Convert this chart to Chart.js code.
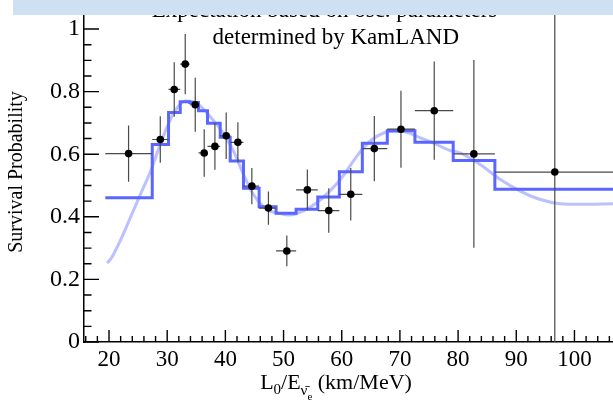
<!DOCTYPE html>
<html>
<head>
<meta charset="utf-8">
<script src="https://cdn.jsdelivr.net/npm/chart.js@4/dist/chart.umd.min.js"></script>
<style>
  html, body { margin: 0; padding: 0; overflow: hidden; background: #fff; width: 613px; height: 408px; }
  #wrap { position: absolute; left: 0; top: 0; width: 630px; height: 408px; }
  #band { position: absolute; left: 13px; top: 0; width: 600px; height: 15px; background: #cfe0f3; }
</style>
</head>
<body>
<div id="wrap"><canvas id="c" width="630" height="408"></canvas></div>
<div id="band"></div>
<script>
// L0/E bins (km/MeV)
const binEdges = [19.36, 27.43, 30.23, 32.24, 33.87, 35.38, 36.93, 39.11, 40.83, 43.11,
                  45.80, 48.72, 52.16, 55.88, 59.59, 63.54, 67.83, 72.58, 79.16, 86.32, 107.0];
// measured survival probability per bin
const pointX   = [23.36, 28.81, 31.21, 33.10, 34.82, 36.36, 38.20, 40.14, 42.15, 44.55,
                  47.40, 50.56, 54.09, 57.77, 61.55, 65.60, 70.18, 75.90, 82.71, 96.62];
const measured = [0.602, 0.647, 0.807, 0.888, 0.758, 0.604, 0.625, 0.659, 0.638, 0.498,
                  0.428, 0.291, 0.486, 0.420, 0.472, 0.618, 0.680, 0.739, 0.601, 0.543];
const errors   = [0.090, 0.074, 0.087, 0.096, 0.086, 0.076, 0.075, 0.074, 0.064, 0.058,
                  0.053, 0.049, 0.065, 0.071, 0.084, 0.104, 0.123, 0.157, 0.300, 0.560];
// expectation per bin (best-fit oscillation parameters)
const expected = [0.461, 0.631, 0.733, 0.768, 0.765, 0.739, 0.699, 0.654, 0.578, 0.491,
                  0.432, 0.411, 0.424, 0.463, 0.544, 0.635, 0.675, 0.638, 0.580, 0.488];
// unbinned expectation curve
const curveX = [19.66, 20.40, 21.94, 23.50, 25.10, 27.38, 29.10, 31.10, 33.10, 35.10,
                37.10, 39.40, 41.40, 43.10, 44.80, 47.10, 49.70, 51.10, 53.40, 55.70,
                58.00, 60.00, 62.00, 63.70, 66.00, 68.30, 70.60, 72.90, 75.70, 78.60,
                80.30, 83.80, 87.20, 90.60, 94.00, 97.50, 100.90, 106.60, 110.00];
const curveY = [0.252, 0.268, 0.324, 0.390, 0.459, 0.557, 0.647, 0.731, 0.770, 0.763,
                0.726, 0.673, 0.610, 0.536, 0.472, 0.424, 0.409, 0.406, 0.419, 0.445,
                0.483, 0.525, 0.578, 0.620, 0.657, 0.673, 0.673, 0.657, 0.636, 0.612,
                0.604, 0.567, 0.520, 0.483, 0.456, 0.442, 0.440, 0.442, 0.443];
// axis ticks
const xTickValues = [20, 30, 40, 50, 60, 70, 80, 90, 100];
const yTickValues = [0, 0.2, 0.4, 0.6, 0.8, 1];
const xMinorStep = 2;
const yMinorStep = 0.05;

const serif = '"Liberation Serif", "DejaVu Serif", serif';

const histPoints = expected.map((v, i) => ({ x: binEdges[i], y: v }));
histPoints.push({ x: binEdges[binEdges.length - 1], y: expected[expected.length - 1] });

// error bars for the measured points
const errorBars = {
  id: 'errorBars',
  beforeDatasetDraw(chart, args) {
    if (args.index !== 0) return;
    const { ctx, chartArea: a, scales: { x, y } } = chart;
    ctx.save();
    ctx.beginPath();
    ctx.rect(a.left, a.top, a.right - a.left, a.bottom - a.top);
    ctx.clip();
    ctx.strokeStyle = '#4a4a4a';
    ctx.lineWidth = 1.2;
    pointX.forEach((px, i) => {
      const cx = x.getPixelForValue(px);
      const cy = y.getPixelForValue(measured[i]);
      ctx.beginPath();
      ctx.moveTo(x.getPixelForValue(binEdges[i]), cy);
      ctx.lineTo(x.getPixelForValue(binEdges[i + 1]), cy);
      ctx.moveTo(cx, y.getPixelForValue(measured[i] + errors[i]));
      ctx.lineTo(cx, y.getPixelForValue(measured[i] - errors[i]));
      ctx.stroke();
    });
    ctx.restore();
  }
};

// inward major/minor tick marks, axis titles and the in-frame caption
const decorations = {
  id: 'decorations',
  afterDraw(chart) {
    const { ctx, chartArea: a, scales: { x, y } } = chart;
    ctx.save();
    ctx.strokeStyle = '#000';
    ctx.lineWidth = 1.4;
    ctx.beginPath();
    for (let v = 16; v <= x.max + 1e-9; v += xMinorStep) {
      const p = x.getPixelForValue(v);
      const major = v % 10 === 0;
      ctx.moveTo(p, a.bottom);
      ctx.lineTo(p, a.bottom - (major ? 12 : 6));
    }
    for (let k = 0; k * yMinorStep <= y.max + 1e-9; k++) {
      const p = y.getPixelForValue(k * yMinorStep);
      const major = k % 4 === 0;
      ctx.moveTo(a.left, p);
      ctx.lineTo(a.left + (major ? 15 : 7.5), p);
    }
    ctx.stroke();

    ctx.fillStyle = '#000';
    // caption inside the frame
    ctx.font = '23px ' + serif;
    ctx.textAlign = 'center';
    ctx.textBaseline = 'alphabetic';
    ctx.fillText('Expectation based on osc. parameters', 324.5, 17);
    ctx.fillText('determined by KamLAND', 335.8, 44);

    // y-axis title
    ctx.save();
    ctx.translate(22, 172);
    ctx.rotate(-Math.PI / 2);
    ctx.font = '20px ' + serif;
    ctx.textAlign = 'center';
    ctx.fillText('Survival Probability', 0, 0);
    ctx.restore();

    // x-axis title with subscripts
    const big = '22px ' + serif, small = '15px ' + serif, tiny = '11px ' + serif;
    const parts = [
      { t: 'L', f: big, dy: 0 },
      { t: '0', f: small, dy: 5 },
      { t: '/E', f: big, dy: 0 },
      { t: '\u03BD\u0304', f: small, dy: 6 },
      { t: 'e', f: tiny, dy: 11 },
      { t: ' (km/MeV)', f: big, dy: 0 }
    ];
    let total = 0;
    parts.forEach(p => { ctx.font = p.f; p.w = ctx.measureText(p.t).width; total += p.w; });
    let cx = 336 - total / 2;
    const base = 389;
    ctx.textAlign = 'left';
    parts.forEach(p => { ctx.font = p.f; ctx.fillText(p.t, cx, base + p.dy); cx += p.w; });
    ctx.restore();
  }
};

const noPad = s => { s.paddingTop = 0; s.paddingBottom = 0; s.paddingLeft = 0; s.paddingRight = 0; };

new Chart(document.getElementById('c').getContext('2d'), {
  type: 'scatter',
  data: {
    datasets: [
      {
        type: 'scatter', label: 'KamLAND data',
        data: pointX.map((v, i) => ({ x: v, y: measured[i] })),
        pointRadius: 3.8, pointBackgroundColor: '#000', pointBorderColor: '#000', pointBorderWidth: 0,
        order: 0
      },
      {
        type: 'line', label: 'expectation (binned)', data: histPoints,
        stepped: 'before', borderColor: '#5a66ff', borderWidth: 3, pointRadius: 0, fill: false,
        order: 1
      },
      {
        type: 'line', label: 'expectation', data: curveX.map((v, i) => ({ x: v, y: curveY[i] })),
        borderColor: 'rgba(120, 132, 255, 0.5)', borderWidth: 3, pointRadius: 0, fill: false,
        cubicInterpolationMode: 'monotone', order: 2
      }
    ]
  },
  options: {
    responsive: false,
    animation: false,
    devicePixelRatio: 1,
    layout: { padding: { top: 2, right: 9, left: 0, bottom: 0 } },
    plugins: { legend: { display: false }, tooltip: { enabled: false } },
    scales: {
      x: {
        type: 'linear', min: 15.7, max: 108,
        grid: { display: false, drawTicks: false },
        border: { display: true, color: '#000', width: 1.5 },
        ticks: { color: '#000', font: { family: serif, size: 23 }, padding: 4, maxRotation: 0 },
        afterBuildTicks: s => { s.ticks = xTickValues.map(v => ({ value: v })); },
        afterFit: s => { s.height = 66; noPad(s); }
      },
      y: {
        type: 'linear', min: 0, max: 1.08,
        grid: { display: false, drawTicks: false },
        border: { display: true, color: '#000', width: 1.5 },
        ticks: { color: '#000', font: { family: serif, size: 24 }, padding: 4,
                 callback: v => (v === 0 || v === 1) ? String(v) : v.toFixed(1) },
        afterBuildTicks: s => { s.ticks = yTickValues.map(v => ({ value: v })); },
        afterFit: s => { s.width = 84; noPad(s); }
      }
    }
  },
  plugins: [errorBars, decorations]
});
</script>
</body>
</html>
